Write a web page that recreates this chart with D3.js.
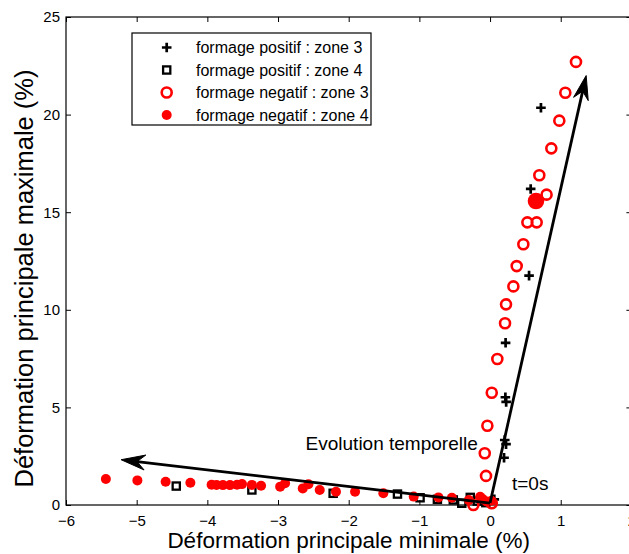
<!DOCTYPE html>
<html><head><meta charset="utf-8">
<script src="https://cdn.jsdelivr.net/npm/d3@7"></script>
<style>body{margin:0;background:#fff}svg{display:block;font-family:"Liberation Sans",Arial,Helvetica,sans-serif}</style>
</head><body>
<svg id="chart" width="629" height="554"></svg>
<script>
// ---- data ----
const xTicks = [-6,-5,-4,-3,-2,-1,0,1,2];
const yTicks = [0,5,10,15,20,25];
const legendLabels = ["formage positif : zone 3","formage positif : zone 4","formage negatif : zone 3","formage negatif : zone 4"];
const posZone3 = [[0.72,20.35],[0.575,16.19],[0.552,11.75],[0.22,8.31],[0.217,5.52],[0.228,5.28],[0.208,3.33],[0.226,3.12],[0.198,2.42],[0.06,0.29]];
const posZone4 = [[-4.44,0.97],[-3.37,0.77],[-2.22,0.6],[-1.31,0.56],[-0.99,0.37],[-0.745,0.29],[-0.52,0.26],[-0.40,0.09],[-0.28,0.39],[-0.18,0.2],[-0.06,0.12]];
const negZone3 = [[1.216,22.7],[1.065,21.12],[0.98,19.69],[0.867,18.27],[0.697,16.89],[0.80,15.9],[0.528,14.48],[0.66,14.48],[0.471,13.36],[0.377,12.24],[0.33,11.2],[0.226,10.28],[0.212,9.31],[0.103,7.48],[0.024,5.75],[-0.038,4.06],[-0.075,2.65],[-0.057,1.49],[0.024,0.09],[-0.236,0.0]];
const negZone4 = [[-5.436,1.33],[-4.99,1.26],[-4.59,1.19],[-4.24,1.14],[-3.94,1.04],[-3.87,1.03],[-3.78,1.02],[-3.68,1.02],[-3.58,1.04],[-3.51,1.07],[-3.37,1.03],[-3.24,0.99],[-2.97,0.94],[-2.9,1.11],[-2.65,0.85],[-2.57,1.06],[-2.41,0.77],[-2.18,0.68],[-1.91,0.68],[-1.51,0.6],[-1.08,0.43],[-0.73,0.39],[-0.54,0.37],[-0.3,0.25],[-0.14,0.42],[-0.10,0.29],[-0.05,0.18],[0.02,0.22]];
const bigPoint = [[0.65,15.57]];
const arrows = [{from:[0,0.1],to:[-5.22,2.32]},{from:[0,0.1],to:[1.36,22.0]}];
const annotations = [{text:"Evolution temporelle",pos:[-2.61,2.8]},{text:"t=0s",pos:[0.31,0.77]}];

// ---- layout ----
const svg = d3.select("#chart");
const L=66, R=631.4, T=17, B=505;
const x = d3.scaleLinear().domain([-6,2]).range([L,R]);
const y = d3.scaleLinear().domain([0,25]).range([B,T]);
const red = "#ff0000";

// frame
svg.append("rect").attr("x",L).attr("y",T).attr("width",R-L).attr("height",B-T)
  .attr("fill","none").attr("stroke","#000").attr("stroke-width",1.2);

function styleAxis(g, showText){
  g.select(".domain").remove();
  g.selectAll("line").attr("stroke","#000").attr("stroke-width",1);
  g.selectAll("text").attr("fill","#000").style("font-size","15px");
  if(!showText) g.selectAll("text").remove();
}
svg.append("g").attr("transform",`translate(0,${B})`)
  .call(d3.axisBottom(x).tickValues(xTicks).tickSizeInner(-5).tickSizeOuter(0).tickPadding(10).tickFormat(d3.format("d")))
  .call(g=>styleAxis(g,true));
svg.append("g").attr("transform",`translate(0,${T})`)
  .call(d3.axisTop(x).tickValues(xTicks).tickSizeInner(-5).tickSizeOuter(0))
  .call(g=>styleAxis(g,false));
svg.append("g").attr("transform",`translate(${L},0)`)
  .call(d3.axisLeft(y).tickValues(yTicks).tickSizeInner(-5).tickSizeOuter(0).tickPadding(6))
  .call(g=>styleAxis(g,true));
svg.append("g").attr("transform",`translate(${R},0)`)
  .call(d3.axisRight(y).tickValues(yTicks).tickSizeInner(-5).tickSizeOuter(0))
  .call(g=>styleAxis(g,false));

// axis labels
svg.append("text").attr("x",(L+R)/2).attr("y",548).attr("text-anchor","middle")
  .style("font-size","22.5px").text("Déformation principale minimale (%)");
svg.append("text").attr("transform","translate(33,278.5) rotate(-90)").attr("text-anchor","middle")
  .style("font-size","25.5px").text("Déformation principale maximale (%)");

// markers
function plus(g, cx, cy, s){
  g.append("path").attr("d",`M${cx-s},${cy}H${cx+s}M${cx},${cy-s}V${cy+s}`)
    .attr("stroke","#000").attr("stroke-width",2.7).attr("fill","none");
}
const gP3 = svg.append("g");
posZone3.forEach(d=>plus(gP3,x(d[0]),y(d[1]),4.8));
svg.append("g").selectAll("rect").data(posZone4).join("rect")
  .attr("x",d=>x(d[0])-3.6).attr("y",d=>y(d[1])-3.6).attr("width",7.2).attr("height",7.2)
  .attr("fill","none").attr("stroke","#000").attr("stroke-width",2.3);
svg.append("g").selectAll("circle").data(negZone3).join("circle")
  .attr("cx",d=>x(d[0])).attr("cy",d=>y(d[1])).attr("r",5)
  .attr("fill","none").attr("stroke",red).attr("stroke-width",2.6);
svg.append("g").selectAll("circle").data(negZone4).join("circle")
  .attr("cx",d=>x(d[0])).attr("cy",d=>y(d[1])).attr("r",5)
  .attr("fill",red);
svg.append("g").selectAll("circle").data(bigPoint).join("circle")
  .attr("cx",d=>x(d[0])).attr("cy",d=>y(d[1])).attr("r",8.3)
  .attr("fill",red);

// arrows
arrows.forEach(a=>{
  const x0=x(a.from[0]), y0=y(a.from[1]), x1=x(a.to[0]), y1=y(a.to[1]);
  const dx=x1-x0, dy=y1-y0, len=Math.hypot(dx,dy), ux=dx/len, uy=dy/len, px=-uy, py=ux;
  const hl=24, hw=7.5, notch=16;
  svg.append("line").attr("x1",x0).attr("y1",y0).attr("x2",x1-ux*notch).attr("y2",y1-uy*notch)
    .attr("stroke","#000").attr("stroke-width",2.8);
  const p = [[x1,y1],[x1-ux*hl+px*hw,y1-uy*hl+py*hw],[x1-ux*notch,y1-uy*notch],[x1-ux*hl-px*hw,y1-uy*hl-py*hw]];
  svg.append("path").attr("d","M"+p.map(q=>q.join(",")).join("L")+"Z").attr("fill","#000")
    .attr("stroke","#000").attr("stroke-width",1).attr("stroke-linejoin","miter");
});

// annotations
svg.append("g").selectAll("text").data(annotations).join("text")
  .attr("x",d=>x(d.pos[0])).attr("y",d=>y(d.pos[1])).style("font-size","19px").text(d=>d.text);

// legend
const lg = svg.append("g");
lg.append("rect").attr("x",132).attr("y",33).attr("width",239).attr("height",92)
  .attr("fill","#fff").attr("stroke","#000").attr("stroke-width",1.2);
const rowsY = [47.5,70,92.5,115], mx=166.7;
plus(lg,mx,rowsY[0],4.8);
lg.append("rect").attr("x",mx-3.6).attr("y",rowsY[1]-3.6).attr("width",7.2).attr("height",7.2)
  .attr("fill","none").attr("stroke","#000").attr("stroke-width",2.3);
lg.append("circle").attr("cx",mx).attr("cy",rowsY[2]).attr("r",5).attr("fill","none").attr("stroke",red).attr("stroke-width",2.6);
lg.append("circle").attr("cx",mx).attr("cy",rowsY[3]).attr("r",5).attr("fill",red);
lg.selectAll("text.l").data(legendLabels).join("text").attr("class","l")
  .attr("x",196).attr("y",(d,i)=>rowsY[i]+5.6).style("font-size","16px").text(d=>d);
</script>
</body></html>
